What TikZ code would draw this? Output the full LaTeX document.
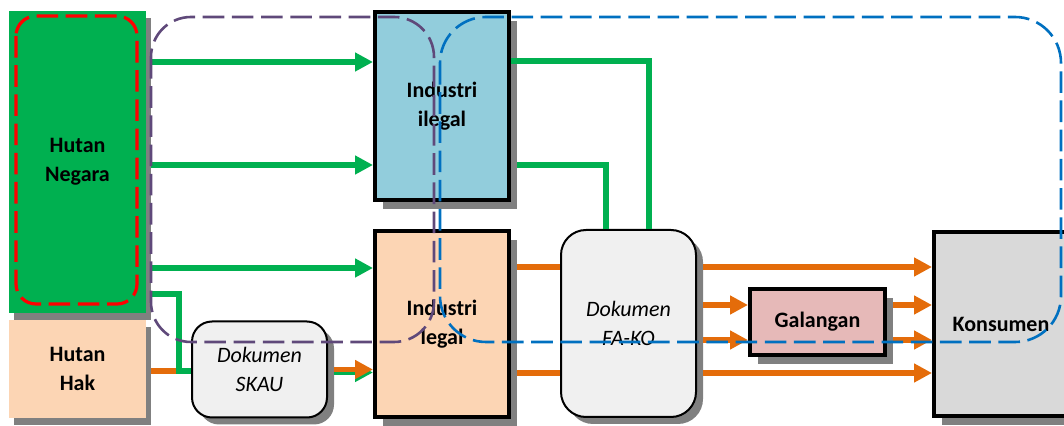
\documentclass[tikz,border=0pt]{standalone}
\usepackage{fontspec}
\setmainfont{Carlito}
\usetikzlibrary{arrows.meta,shadows}
\definecolor{hgreen}{HTML}{00B050}
\definecolor{peach}{HTML}{FCD5B4}
\definecolor{iblue}{HTML}{92CDDC}
\definecolor{gpink}{HTML}{E6B9B8}
\definecolor{kgray}{HTML}{D9D9D9}
\definecolor{dgray}{HTML}{F0F0F0}
\definecolor{shgray}{HTML}{808080}
\definecolor{dpurple}{HTML}{5F497A}
\definecolor{dblue}{HTML}{0070C0}
\definecolor{orng}{HTML}{E46C0A}
\begin{document}
\begin{tikzpicture}[x=0.5pt,y=-0.5pt,
  lbl/.style={font=\fontsize{11}{14.5}\selectfont\bfseries, align=center},
  ilbl/.style={font=\fontsize{11}{14.5}\selectfont\itshape, align=center},
  plainbox/.style={rectangle, inner sep=0pt, lbl,
     drop shadow={shadow xshift=2.5pt, shadow yshift=-3.5pt, fill=shgray, opacity=1}},
  thickbox/.style={rectangle, draw=black, line width=2pt, inner sep=0pt, lbl,
     drop shadow={shadow xshift=4pt, shadow yshift=-4.5pt, fill=shgray, opacity=1}},
  docbox/.style={rectangle, rounded corners=#1, draw=black, line width=1pt, fill=dgray, inner sep=0pt, ilbl,
     drop shadow={shadow xshift=3.5pt, shadow yshift=-3.5pt, fill=shgray, opacity=1}},
  gline/.style={draw=hgreen, line width=2.6pt},
  oline/.style={draw=orng, line width=2.6pt},
  tip/.style={-{Triangle[length=9pt,width=9pt]}},
  dashpat/.style={dash pattern=on 10.8pt off 3.8pt},
]
\useasboundingbox (0,0) rectangle (1064,426);

% nodes
\node[plainbox, fill=hgreen, minimum width=68.5pt, minimum height=151pt] (hn) at (77.5,162) {Hutan\\Negara};
\node[plainbox, fill=peach, minimum width=68.5pt, minimum height=49pt] (hh) at (77.5,369) {Hutan\\Hak};
\node[thickbox, fill=iblue, minimum width=67pt, minimum height=94pt] (ii) at (442,106) {Industri\\ilegal};
\node[thickbox, fill=peach, minimum width=67pt, minimum height=93pt] (il) at (442,324) {Industri\\legal};
\node[docbox=12.5pt, minimum width=67.5pt, minimum height=93.5pt] (fk) at (628.5,323.5) {Dokumen\\FA-KO};
\node[docbox=10pt, minimum width=67.5pt, minimum height=48pt] (sk) at (259.5,369.5) {Dokumen\\SKAU};
\node[thickbox, fill=gpink, minimum width=67.5pt, minimum height=33pt] (ga) at (817.5,322) {Galangan};
\node[thickbox, fill=kgray, minimum width=67pt, minimum height=92pt] (ko) at (1001,324) {Konsumen};

% helper coordinates
\coordinate (y62) at (0,62);
\coordinate (y165) at (0,165);
\coordinate (y268) at (0,268);
\coordinate (k1) at (179,294);
\coordinate (y371) at (0,371);
\coordinate (y369) at (0,369.5);
\coordinate (y372) at (0,372.5);
\coordinate (c649) at (649,0);
\coordinate (c606) at (606,0);
\coordinate (y61) at (0,61);
\coordinate (y267) at (0,267);
\coordinate (y373) at (0,373);
\coordinate (y305) at (0,305);
\coordinate (y340) at (0,340);

% green arrows Hutan Negara -> Industri
\draw[gline, tip] ([xshift=2.5pt]hn.east |- y62) -- (ii.west |- y62);
\draw[gline, tip] ([xshift=2.5pt]hn.east |- y165) -- (ii.west |- y165);
\draw[gline, tip] ([xshift=2.5pt]hn.east |- y268) -- (il.west |- y268);

% Hutan Hak / Hutan Negara -> SKAU
\draw[oline] ([xshift=2.5pt]hh.east |- y371) -- (k1 |- y371);
\draw[gline] ([xshift=2.5pt]hn.east |- k1) -- (k1) |- (sk.west |- y371);

% SKAU -> Industri legal
\draw[gline, tip] ([xshift=3pt]sk.east |- y372) -- (il.west |- y372);
\draw[oline, tip] ([xshift=3pt]sk.east |- y369) -- (il.west |- y369);

% Industri ilegal -> FA-KO
\draw[gline] (ii.east |- y61) -| (fk.north -| c649);
\draw[gline] ([xshift=3pt]ii.east |- y165) -| (fk.north -| c606);

% Industri legal -> FA-KO
\draw[oline] ([xshift=3pt]il.east |- y267) -- (fk.west |- y267);
\draw[oline] ([xshift=3pt]il.east |- y373) -- (fk.west |- y373);

% FA-KO -> Konsumen / Galangan
\draw[oline, tip] ([xshift=3pt]fk.east |- y267) -- (ko.west |- y267);
\draw[oline, tip] ([xshift=3pt]fk.east |- y373) -- (ko.west |- y373);
\draw[oline, tip] ([xshift=3pt]fk.east |- y305) -- (ga.west |- y305);
\draw[oline, tip] ([xshift=3pt]fk.east |- y340) -- (ga.west |- y340);

% Galangan -> Konsumen
\draw[oline, tip] ([xshift=3pt]ga.east |- y305) -- (ko.west |- y305);
\draw[oline, tip] ([xshift=3pt]ga.east |- y340) -- (ko.west |- y340);

% dashed groupings
\draw[red, line width=1.6pt, dashpat, rounded corners=10pt] (16,16) rectangle (137,304);
\draw[dpurple, line width=1.3pt, dashpat, rounded corners=20pt] (151,17) rectangle (434,342);
\draw[dblue, line width=1.3pt, dashpat, rounded corners=23pt] (440,17) rectangle (1061,342);
\end{tikzpicture}
\end{document}
